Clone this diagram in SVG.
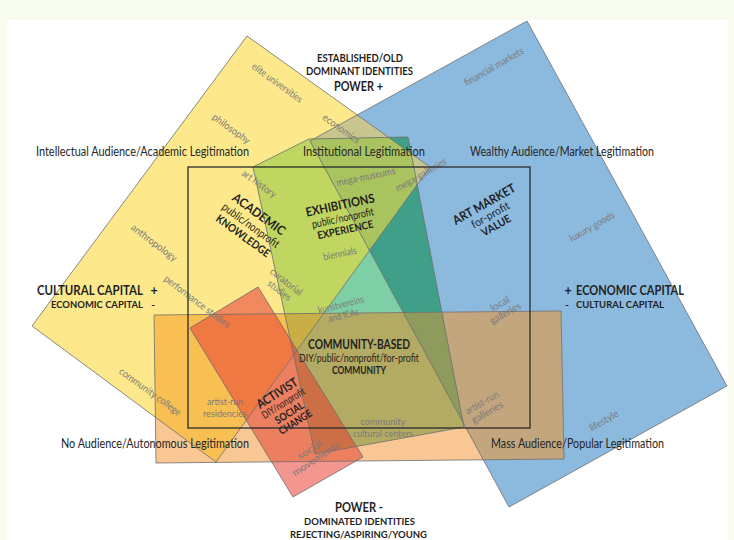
<svg xmlns="http://www.w3.org/2000/svg" xmlns:xlink="http://www.w3.org/1999/xlink" width="734" height="540" viewBox="0 0 734 540">
<style>
text{font-family:Lato,"Liberation Sans","DejaVu Sans",sans-serif;fill:#1f1f1f}
.b{font-weight:bold}
.ax{font-size:12.5px;fill:#262626}
.g{font-size:10px;fill:#7a7a7a}
.edge{fill:none;stroke:#6e6e6e;stroke-width:1;stroke-opacity:0.8}
.frame{fill:none;stroke:#2a2a2a;stroke-width:1.3}
</style>
<defs>
<polygon id="pY" points="247,36 430,167 216,462 32,326"/>
<polygon id="pB" points="527,21 727,386 509,507 310,141"/>
<polygon id="pG" points="253,167 309,139 408,137 464,427 315,454"/>
<polygon id="pO" points="154,315 561,311 564,459 156,463"/>
<polygon id="pR" points="258,287 363,457 293,497 190,328"/>
<clipPath id="cY"><use href="#pY"/></clipPath>
<clipPath id="cB"><use href="#pB"/></clipPath>
<clipPath id="cG"><use href="#pG"/></clipPath>
<clipPath id="cO"><use href="#pO"/></clipPath>
<clipPath id="cR"><use href="#pR"/></clipPath>
</defs>
<rect x="0" y="0" width="734" height="540" fill="#f8fcee"/>
<rect x="7" y="20" width="721" height="520" fill="#ffffff"/>

<g id="fills">
<use href="#pY" fill="#fde98c"/>
<use href="#pB" fill="#8cb9de"/>
<use href="#pG" fill="#7fcfa6"/>
<use href="#pO" fill="#f9c794"/>
<use href="#pR" fill="#f2968f"/>
<use href="#pY" fill="#c8c68e" clip-path="url(#cB)"/>
<use href="#pY" fill="#c0d660" clip-path="url(#cG)"/>
<use href="#pB" fill="#3f9f88" clip-path="url(#cG)"/>
<use href="#pY" fill="#f8bf52" clip-path="url(#cO)"/>
<use href="#pB" fill="#c3a67e" clip-path="url(#cO)"/>
<use href="#pG" fill="#b3aa63" clip-path="url(#cO)"/>
<use href="#pY" fill="#f08a5e" clip-path="url(#cR)"/>
<use href="#pO" fill="#eb7f5f" clip-path="url(#cR)"/>
<g clip-path="url(#cB)"><use href="#pY" fill="#a9c35f" clip-path="url(#cG)"/></g>
<g clip-path="url(#cO)"><use href="#pY" fill="#c9ad45" clip-path="url(#cG)"/></g>
<g clip-path="url(#cO)"><use href="#pB" fill="#8f9b5c" clip-path="url(#cG)"/></g>
<g clip-path="url(#cO)"><use href="#pY" fill="#ef7843" clip-path="url(#cR)"/></g>
<g clip-path="url(#cO)"><use href="#pG" fill="#cc6f47" clip-path="url(#cR)"/></g>
</g>

<g id="academic">
<use href="#pY" class="edge"/>
<g transform="translate(259,214) rotate(36)" text-anchor="middle">
<text class="b" y="4.5" font-size="12.5" textLength="62" lengthAdjust="spacingAndGlyphs">ACADEMIC</text>
<text y="18" font-size="11.5" textLength="68" lengthAdjust="spacingAndGlyphs">public/nonprofit</text>
<text class="b" y="31" font-size="11" textLength="64" lengthAdjust="spacingAndGlyphs">KNOWLEDGE</text>
</g>
<g text-anchor="middle">
<text class="g" transform="translate(277,83) rotate(36)" y="3" textLength="60" lengthAdjust="spacingAndGlyphs">elite universities</text>
<text class="g" transform="translate(231,129) rotate(36)" y="3" textLength="44" lengthAdjust="spacingAndGlyphs">philosophy</text>
<text class="g" transform="translate(341,129) rotate(36)" y="3" textLength="43" lengthAdjust="spacingAndGlyphs">economics</text>
<text class="g" transform="translate(259,184) rotate(36)" y="3" textLength="40" lengthAdjust="spacingAndGlyphs">art history</text>
<text class="g" transform="translate(154,243) rotate(37)" y="3" textLength="55" lengthAdjust="spacingAndGlyphs">anthropology</text>
<text class="g" transform="translate(197,302) rotate(37)" y="3" textLength="80" lengthAdjust="spacingAndGlyphs">performance studies</text>
<g transform="translate(286,282) rotate(38)">
<text class="g" y="3" textLength="38" lengthAdjust="spacingAndGlyphs">curatorial</text>
<text class="g" y="14" textLength="27" lengthAdjust="spacingAndGlyphs">studies</text>
</g>
<text class="g" transform="translate(150,392) rotate(36)" y="3" textLength="74" lengthAdjust="spacingAndGlyphs">community college</text>
</g>
</g>

<g id="art-market">
<use href="#pB" class="edge"/>
<g transform="translate(484,204) rotate(-29.5)" text-anchor="middle">
<text class="b" y="4.5" font-size="12.5" textLength="70" lengthAdjust="spacingAndGlyphs">ART MARKET</text>
<text y="16.5" font-size="11" textLength="42" lengthAdjust="spacingAndGlyphs">for-profit</text>
<text class="b" y="28.5" font-size="11" textLength="32" lengthAdjust="spacingAndGlyphs">VALUE</text>
</g>
<g text-anchor="middle">
<text class="g" transform="translate(494,67) rotate(-30)" y="3" textLength="67" lengthAdjust="spacingAndGlyphs">financial markets</text>
<text class="g" transform="translate(592,227) rotate(-30)" y="3" textLength="50" lengthAdjust="spacingAndGlyphs">luxury goods</text>
<text class="g" transform="translate(604,421) rotate(-30)" y="3" textLength="32" lengthAdjust="spacingAndGlyphs">lifestyle</text>
<text class="g" transform="translate(421,175) rotate(-30)" y="3" textLength="57" lengthAdjust="spacingAndGlyphs">mega-galleries</text>
<g transform="translate(500,304) rotate(-30)">
<text class="g" y="3" textLength="20" lengthAdjust="spacingAndGlyphs">local</text>
<text class="g" y="14" textLength="34" lengthAdjust="spacingAndGlyphs">galleries</text>
</g>
<g transform="translate(482,403) rotate(-30)">
<text class="g" y="3" textLength="37" lengthAdjust="spacingAndGlyphs">artist-run</text>
<text class="g" y="14" textLength="35" lengthAdjust="spacingAndGlyphs">galleries</text>
</g>
</g>
</g>

<g id="exhibitions">
<use href="#pG" class="edge"/>
<g transform="translate(340,205) rotate(-12)" text-anchor="middle">
<text class="b" y="4.5" font-size="12.5" textLength="70" lengthAdjust="spacingAndGlyphs">EXHIBITIONS</text>
<text y="17" font-size="11" textLength="63" lengthAdjust="spacingAndGlyphs">public/nonprofit</text>
<text class="b" y="29" font-size="10.5" textLength="57" lengthAdjust="spacingAndGlyphs">EXPERIENCE</text>
</g>
<g text-anchor="middle">
<text class="g" transform="translate(366,177) rotate(-12)" y="3" textLength="60" lengthAdjust="spacingAndGlyphs">mega-museums</text>
<text class="g" transform="translate(340,254) rotate(-12)" y="3" textLength="34" lengthAdjust="spacingAndGlyphs">biennials</text>
<g transform="translate(341,305) rotate(-14)">
<text class="g" y="3" textLength="47" lengthAdjust="spacingAndGlyphs">kunstvereins</text>
<text class="g" y="14" textLength="31" lengthAdjust="spacingAndGlyphs">and ICAs</text>
</g>
</g>
</g>

<g id="community-based">
<use href="#pO" class="edge"/>
<g text-anchor="middle">
<text class="b" x="359" y="349" font-size="12.5" textLength="102" lengthAdjust="spacingAndGlyphs">COMMUNITY-BASED</text>
<text x="359" y="362" font-size="11" textLength="120" lengthAdjust="spacingAndGlyphs">DIY/public/nonprofit/for-profit</text>
<text class="b" x="359" y="374" font-size="10.5" textLength="54" lengthAdjust="spacingAndGlyphs">COMMUNITY</text>
<text class="g" x="225" y="405" textLength="36" lengthAdjust="spacingAndGlyphs">artist-run</text>
<text class="g" x="225" y="417" textLength="44" lengthAdjust="spacingAndGlyphs">residencies</text>
<text class="g" x="383" y="425" textLength="45" lengthAdjust="spacingAndGlyphs">community</text>
<text class="g" x="383" y="437" textLength="60" lengthAdjust="spacingAndGlyphs">cultural centers</text>
</g>
</g>

<g id="activist">
<use href="#pR" class="edge"/>
<g transform="translate(277,393) rotate(-32)" text-anchor="middle">
<text class="b" y="4.5" font-size="12.5" textLength="46" lengthAdjust="spacingAndGlyphs">ACTIVIST</text>
<text y="15.5" font-size="10.5" textLength="49" lengthAdjust="spacingAndGlyphs">DIY/nonprofit</text>
<text class="b" y="27" font-size="10.5" textLength="32" lengthAdjust="spacingAndGlyphs">SOCIAL</text>
<text class="b" y="38" font-size="10.5" textLength="37" lengthAdjust="spacingAndGlyphs">CHANGE</text>
</g>
<g transform="translate(310,450) rotate(-33)" text-anchor="middle">
<text class="g" y="3" textLength="27" lengthAdjust="spacingAndGlyphs">social</text>
<text class="g" y="14" textLength="54" lengthAdjust="spacingAndGlyphs">movements</text>
</g>
</g>

<g id="frame">
<rect class="frame" x="188" y="167" width="342" height="261"/>
</g>

<g id="axis-labels">
<g text-anchor="middle">
<text class="b" x="360" y="62" font-size="10.5" textLength="86" lengthAdjust="spacingAndGlyphs">ESTABLISHED/OLD</text>
<text class="b" x="359.5" y="75" font-size="10.5" textLength="107" lengthAdjust="spacingAndGlyphs">DOMINANT IDENTITIES</text>
<text class="b" x="358.5" y="91" font-size="12.5" textLength="49" lengthAdjust="spacingAndGlyphs">POWER +</text>
<text class="b" x="359" y="512" font-size="12.5" textLength="48" lengthAdjust="spacingAndGlyphs">POWER -</text>
<text class="b" x="359.5" y="525" font-size="10" textLength="111" lengthAdjust="spacingAndGlyphs">DOMINATED IDENTITIES</text>
<text class="b" x="358.5" y="538" font-size="10" textLength="137" lengthAdjust="spacingAndGlyphs">REJECTING/ASPIRING/YOUNG</text>
<text class="b" x="154" y="295" font-size="12.5">+</text>
<text class="b" x="153" y="308" font-size="10">-</text>
<text class="b" x="568" y="295" font-size="12.5">+</text>
<text class="b" x="567" y="308" font-size="10">-</text>
</g>
<text class="ax" x="36" y="156" textLength="213" lengthAdjust="spacingAndGlyphs">Intellectual Audience/Academic Legitimation</text>
<text class="ax" x="303" y="156" textLength="122" lengthAdjust="spacingAndGlyphs">Institutional  Legitimation</text>
<text class="ax" x="470" y="156" textLength="184" lengthAdjust="spacingAndGlyphs">Wealthy Audience/Market Legitimation</text>
<text class="ax" x="61" y="448" textLength="188" lengthAdjust="spacingAndGlyphs">No Audience/Autonomous Legitimation</text>
<text class="ax" x="491" y="448" textLength="173" lengthAdjust="spacingAndGlyphs">Mass Audience/Popular Legitimation</text>
<text class="b" x="37" y="295" font-size="12.5" textLength="106" lengthAdjust="spacingAndGlyphs">CULTURAL CAPITAL</text>
<text class="b" x="51" y="308" font-size="9.5" textLength="92" lengthAdjust="spacingAndGlyphs">ECONOMIC CAPITAL</text>
<text class="b" x="576" y="295" font-size="12.5" textLength="108" lengthAdjust="spacingAndGlyphs">ECONOMIC CAPITAL</text>
<text class="b" x="576" y="308" font-size="9.5" textLength="88" lengthAdjust="spacingAndGlyphs">CULTURAL CAPITAL</text>
</g>
</svg>
